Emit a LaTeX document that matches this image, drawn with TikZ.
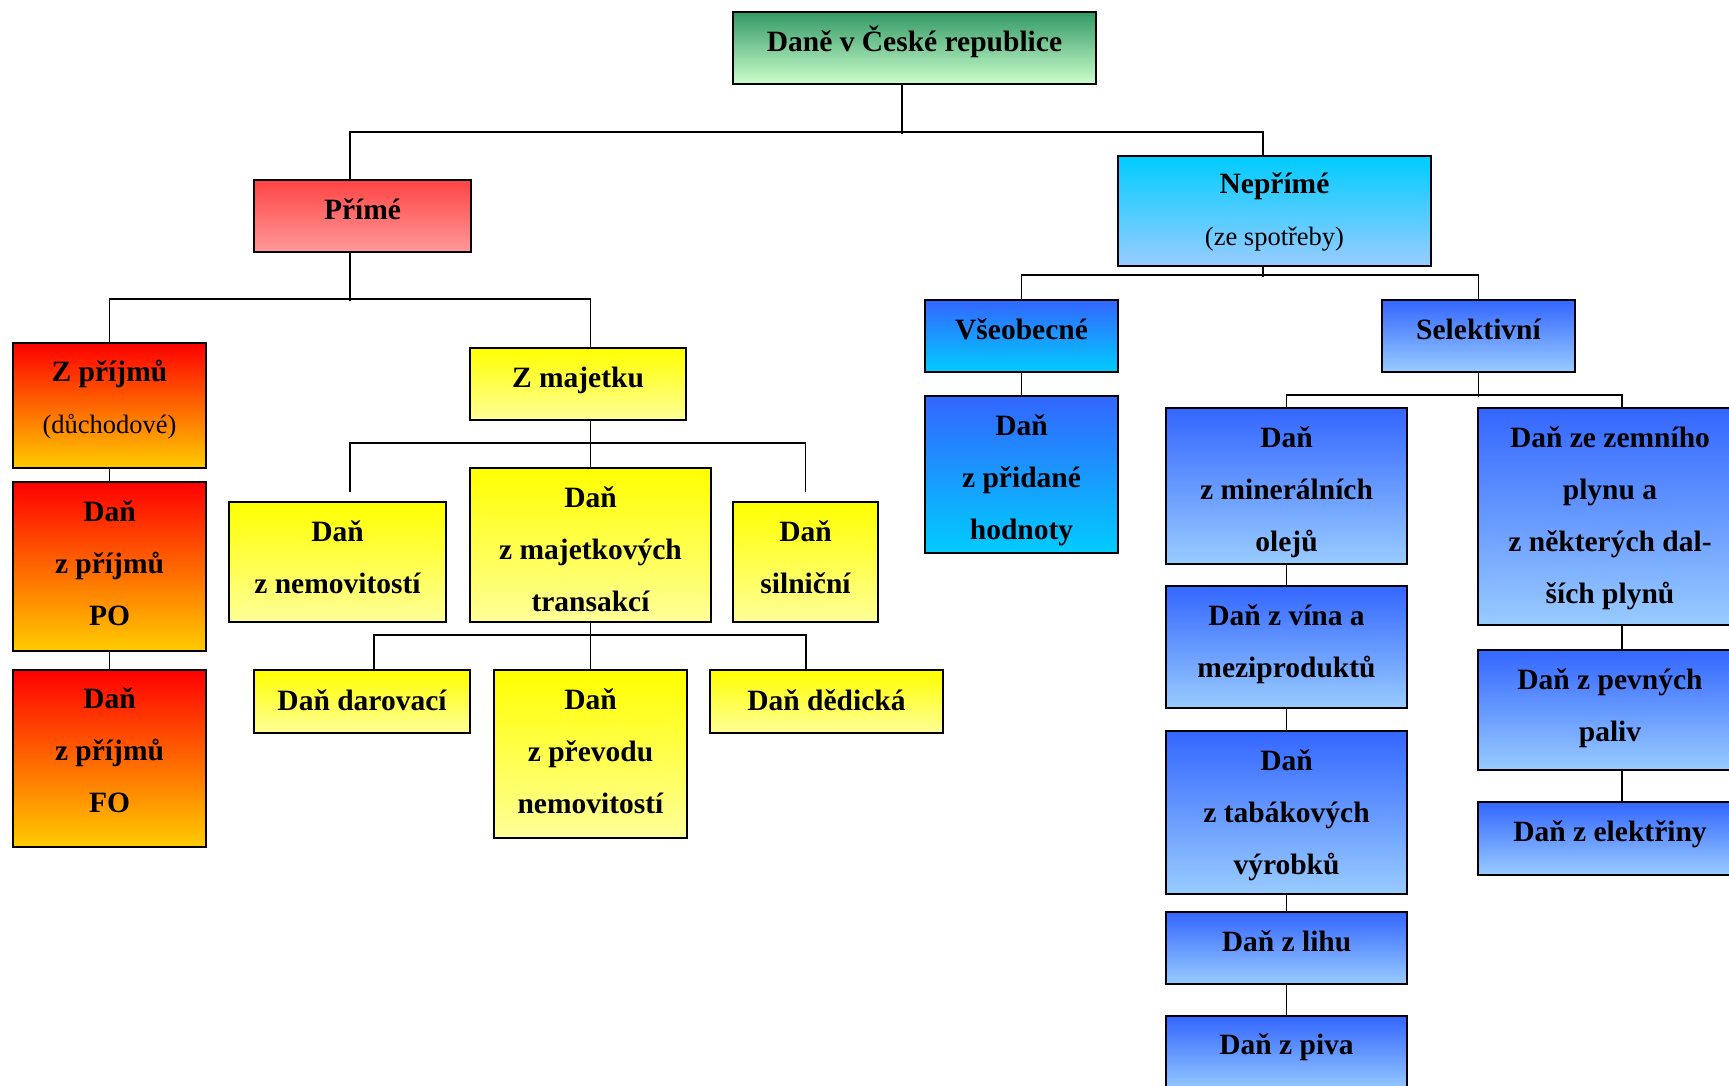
\documentclass[tikz,border=0pt]{standalone}
\usepackage{fontspec}
\setmainfont{Liberation Serif}
\usetikzlibrary{calc}
\definecolor{gTop}{RGB}{51,153,102}
\definecolor{gBot}{RGB}{204,255,204}
\definecolor{rTop}{RGB}{255,68,68}
\definecolor{rBot}{RGB}{255,153,153}
\definecolor{oTop}{RGB}{255,0,0}
\definecolor{oBot}{RGB}{255,204,0}
\definecolor{yTop}{RGB}{255,255,0}
\definecolor{yBot}{RGB}{255,255,153}
\definecolor{cyanC}{RGB}{0,204,255}
\definecolor{blueC}{RGB}{51,102,255}
\definecolor{lblueC}{RGB}{153,204,255}
\newcommand\subtxt[1]{{\mdseries\fontsize{26.5}{52}\selectfont #1}}
\newcommand\taxbox[8]{%
  \node[box,#2,minimum width=#5pt,minimum height=#6pt] (#1) at (#3,#4) {};
  \node[txt] at ($(#1.center)+(0,#7)$) {#8};
}
\begin{document}
\begin{tikzpicture}[x=1pt,y=-1pt,
  box/.style={draw=black,line width=2.2pt,inner sep=0pt,rectangle},
  txt/.style={align=center,inner sep=0pt,font=\bfseries\fontsize{29.5}{52}\selectfont,
    execute at begin node={\rule{0pt}{27pt}},
    execute at end node={\rule[-8pt]{0pt}{8pt}}},
  conn/.style={draw=black,line width=1.8pt},
  greenbox/.style={top color=gTop,bottom color=gBot},
  redbox/.style={top color=rTop,bottom color=rBot},
  orangebox/.style={top color=oTop,bottom color=oBot},
  yellowbox/.style={top color=yTop,bottom color=yBot},
  cyanbox/.style={top color=cyanC,bottom color=lblueC},
  bluecyanbox/.style={top color=blueC,bottom color=cyanC},
  bluebox/.style={top color=blueC,bottom color=lblueC}]
\useasboundingbox (0,0) rectangle (1729,1085);
\clip (0,0) rectangle (1729,1085);
\fill[white] (0,0) rectangle (1729,1085);

\taxbox{top}{greenbox}{914.5}{48}{363}{72}{-6}{Daně v České republice}
\taxbox{prime}{redbox}{362.5}{216}{217}{72}{-6}{Přímé}
\taxbox{neprime}{cyanbox}{1274.5}{211}{313}{110}{2}{Nepřímé\\\subtxt{(ze spotřeby)}}
\taxbox{zprijmu}{orangebox}{109.5}{405.5}{193}{125}{-4.5}{Z příjmů\\\subtxt{(důchodové)}}
\taxbox{po}{orangebox}{109.5}{566.5}{193}{169}{0.5}{Daň\\z příjmů\\PO}
\taxbox{fo}{orangebox}{109.5}{758.5}{193}{177}{-4}{Daň\\z příjmů\\FO}
\taxbox{zmajetku}{yellowbox}{578}{384}{216}{72}{-6}{Z majetku}
\taxbox{nemov}{yellowbox}{337.5}{562}{217}{120}{-1}{Daň\\z nemovitostí}
\taxbox{transakci}{yellowbox}{590.5}{545}{241}{154}{8}{Daň\\z majetkových\\transakcí}
\taxbox{silnicni}{yellowbox}{805.5}{562}{145}{120}{-0.5}{Daň\\silniční}
\taxbox{darovaci}{yellowbox}{362}{701.5}{216}{63}{-0.5}{Daň darovací}
\taxbox{prevod}{yellowbox}{590.5}{754}{193}{168}{1}{Daň\\z převodu\\nemovitostí}
\taxbox{dedicka}{yellowbox}{826.5}{701.5}{233}{63}{-0.5}{Daň dědická}
\taxbox{vseob}{bluecyanbox}{1021.5}{336}{193}{72}{-6}{Všeobecné}
\taxbox{selekt}{bluebox}{1478.5}{336}{193}{72}{-6}{Selektivní}
\taxbox{dph}{bluecyanbox}{1021.5}{474.5}{193}{157}{6.5}{Daň\\z přidané\\hodnoty}
\taxbox{miner}{bluebox}{1286.5}{486}{241}{156}{7}{Daň\\z minerálních\\olejů}
\taxbox{plyn}{bluebox}{1610}{516.5}{264}{217}{3}{Daň ze zemního\\plynu a\\z některých dal-\\ších plynů}
\taxbox{vino}{bluebox}{1286.5}{647}{241}{122}{-2}{Daň z vína a\\meziproduktů}
\taxbox{tabak}{bluebox}{1286.5}{812.5}{241}{163}{3.5}{Daň\\z tabákových\\výrobků}
\taxbox{lih}{bluebox}{1286.5}{948}{241}{72}{-6}{Daň z lihu}
\taxbox{pivo}{bluebox}{1286.5}{1054}{241}{76}{-9}{Daň z piva}
\taxbox{paliva}{bluebox}{1610}{710}{264}{120}{-1}{Daň z pevných\\paliv}
\taxbox{elektr}{bluebox}{1610}{838.5}{264}{73}{-6.5}{Daň z elektřiny}

% connectors
\draw[conn] ([xshift=-12.5pt]top.south) -- ++(0,49);
\draw[conn] ([xshift=-12.5pt]prime.north) -- ++(0,-47) -| ([xshift=-11.5pt]neprime.north);
\draw[conn] ([xshift=-12.5pt]prime.south) -- ++(0,48);
\draw[conn] (zprijmu.north) -- ++(0,-43) -| ([xshift=12.5pt]zmajetku.north);
\draw[conn] (zprijmu.south) -- (po.north);
\draw[conn] (po.south) -- (fo.north);
\draw[conn] ([xshift=12.5pt]zmajetku.south) -- (transakci.north);
\draw[conn] ([xshift=12.5pt,yshift=9pt]nemov.north) -- ++(0,-49) -| ([yshift=9pt]silnicni.north);
\draw[conn] (transakci.south) -- (prevod.north);
\draw[conn] ([xshift=12pt]darovaci.north) -- ++(0,-34) -| ([xshift=-20.5pt]dedicka.north);
\draw[conn] ([xshift=-11.5pt]neprime.south) -- ++(0,10);
\draw[conn] (vseob.north) -- ++(0,-24) -| (selekt.north);
\draw[conn] (vseob.south) -- (dph.north);
\draw[conn] (selekt.south) -- ++(0,24);
\draw[conn] (miner.north) -- ++(0,-12) -| ([xshift=12pt]plyn.north);
\draw[conn] (miner.south) -- (vino.north);
\draw[conn] (vino.south) -- (tabak.north);
\draw[conn] (tabak.south) -- (lih.north);
\draw[conn] (lih.south) -- (pivo.north);
\draw[conn] ([xshift=12pt]plyn.south) -- ([xshift=12pt]paliva.north);
\draw[conn] ([xshift=12pt]paliva.south) -- ([xshift=12pt]elektr.north);
\end{tikzpicture}
\end{document}
